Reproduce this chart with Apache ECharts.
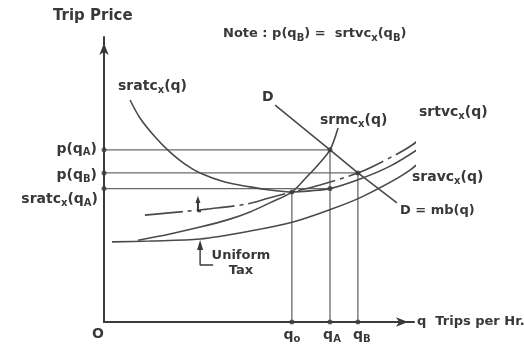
<!DOCTYPE html>
<html>
<head>
<meta charset="utf-8">
<script src="https://cdn.jsdelivr.net/npm/echarts@6/dist/echarts.min.js"></script>
<style>
  html, body { margin: 0; padding: 0; background: #ffffff; }
  #chart { width: 524px; height: 345px; }
</style>
</head>
<body>
<div id="chart"></div>
<script>
// Trip quantities marked on the horizontal axis
const qZero = 60.6, qA = 72.9, qB = 81.9;
// Prices marked on the vertical axis
const priceA = 60.4, priceB = 52.3, sratcAtQA = 46.8, sratcAtQZero = 45.6;

// Short-run average variable cost
const sravcPoints = [[2.6, 28.1], [14.8, 28.4], [31.0, 29.1], [47.1, 31.9], [61.0, 35.1],
  [72.6, 39.3], [83.2, 43.9], [98.7, 53.3], [111.6, 66.3]];
// Short-run marginal cost
const srmcPoints = [[11.0, 28.7], [21.3, 30.9], [31.0, 33.3], [40.6, 36.1], [47.1, 38.6],
  [53.5, 41.8], [60.6, 45.6], [64.8, 50.2], [69.0, 55.1], [72.9, 60.4], [75.5, 68.1]];
// Short-run average total cost
const sratcPoints = [[8.4, 77.9], [11.6, 71.6], [16.5, 64.9], [21.3, 59.6], [26.1, 55.4],
  [31.0, 52.3], [39.0, 49.1], [47.1, 47.4], [53.5, 46.3], [60.6, 45.6], [66.5, 46.0],
  [72.9, 46.8], [82.6, 50.2], [92.3, 54.7], [101.9, 61.1], [109.4, 67.4]];
// Average variable cost plus the uniform tax
const srtvcPoints = [[13.2, 37.5], [27.1, 38.9], [33.2, 39.6], [46.1, 41.4], [52.6, 43.3],
  [60.6, 45.6], [69.7, 48.1], [81.9, 52.3], [89.0, 55.8], [99.4, 62.1], [108.4, 70.5]];
// Demand, D = mb(q)
const demandPoints = [[55.2, 76.1], [72.9, 60.4], [81.9, 52.3], [94.5, 41.8]];

// Pointer under the "Uniform Tax" note and the small tax marker on the dashed curve
const uniformTaxArrow = [[35.2, 20.0], [31.0, 20.0], [31.0, 27.0]];
const taxMarker = [[31.3, 38.9], [30.3, 38.9], [30.3, 43.0]];

const font = 'DejaVu Sans';
const ink = '#383838';
const curveInk = '#4a4a4a';
const guideInk = '#6a6a6a';

const chart = echarts.init(document.getElementById('chart'));

function curve(name, data, extra) {
  return Object.assign({
    type: 'line', name: name, data: data, smooth: 0.3,
    symbol: 'none', clip: false, silent: true, z: 3,
    lineStyle: { color: curveInk, width: 1.6 }
  }, extra || {});
}

function guide(a, b) {
  return {
    type: 'line', data: [a, b], symbol: 'none', clip: false, silent: true, z: 2,
    lineStyle: { color: guideInk, width: 1.3 }
  };
}

function pointer(points, width, head) {
  const data = points.map(function (p, i) {
    return i === points.length - 1
      ? { value: p, symbol: 'triangle', symbolSize: head }
      : { value: p, symbol: 'none' };
  });
  return {
    type: 'line', data: data, showSymbol: true, symbol: 'none', clip: false, silent: true, z: 4,
    lineStyle: { color: ink, width: width }, itemStyle: { color: ink }
  };
}

const dots = [
  [0, priceA], [0, priceB], [0, sratcAtQA],
  [qZero, 0], [qA, 0], [qB, 0],
  [qZero, sratcAtQZero], [qA, priceA], [qA, sratcAtQA], [qB, priceB]
];

const axisCommon = {
  type: 'value', min: 0, max: 100,
  axisTick: { show: false }, axisLabel: { show: false }, splitLine: { show: false },
  axisLine: {
    show: true, onZero: false, symbol: ['none', 'arrow'], symbolSize: [7, 12], symbolOffset: [0, -6],
    lineStyle: { color: '#3a3a3a', width: 2 }
  }
};

chart.setOption({
  backgroundColor: '#ffffff',
  animation: false,
  grid: { left: 104, top: 37, width: 310, height: 285 },
  xAxis: axisCommon,
  yAxis: axisCommon,
  series: [
    guide([0, priceA], [qA, priceA]),
    guide([0, priceB], [qB, priceB]),
    guide([0, sratcAtQA], [qA, sratcAtQA]),
    guide([qZero, 0], [qZero, sratcAtQZero]),
    guide([qA, 0], [qA, priceA]),
    guide([qB, 0], [qB, priceB]),
    curve('sravc', sravcPoints),
    curve('srmc', srmcPoints),
    curve('sratc', sratcPoints),
    curve('srtvc', srtvcPoints, { lineStyle: { color: curveInk, width: 1.6, type: [38, 5, 4, 5] } }),
    curve('D', demandPoints, { smooth: false }),
    pointer(uniformTaxArrow, 1.4, [6, 10]),
    pointer(taxMarker, 2, [5, 7]),
    {
      type: 'scatter', data: dots, symbol: 'circle', symbolSize: 5, clip: false, silent: true, z: 5,
      itemStyle: { color: '#3a3a3a' }
    }
  ]
});

function rich(size) {
  return {
    s: { fontFamily: font, fontWeight: 'bold', fontSize: Math.round(size * 0.74), fill: ink, padding: [8, 0, 0, 0] }
  };
}

function label(x, y, text, align, size) {
  size = size || 14;
  return {
    type: 'text', x: x, y: y, silent: true, z: 10,
    style: {
      text: text, align: align || 'left', verticalAlign: 'middle', fill: ink,
      fontFamily: font, fontWeight: 'bold', fontSize: size, lineHeight: 15, rich: rich(size)
    }
  };
}

function px(point) {
  return chart.convertToPixel({ gridIndex: 0 }, point);
}

const pxQZero = px([qZero, 0]), pxQA = px([qA, 0]), pxQB = px([qB, 0]);
const pxPA = px([0, priceA]), pxPB = px([0, priceB]), pxSA = px([0, sratcAtQA]);
const origin = px([0, 0]);

chart.setOption({
  graphic: [
    label(53, 16, 'Trip Price', 'left', 15),
    label(223, 34, 'Note : p(q{s|B}) =  srtvc{s|x}(q{s|B})', 'left', 13),
    label(118, 86, 'sratc{s|x}(q)'),
    label(320, 120, 'srmc{s|x}(q)'),
    label(419, 112, 'srtvc{s|x}(q)'),
    label(412, 177, 'sravc{s|x}(q)'),
    label(400, 211, 'D = mb(q)', 'left', 13),
    label(262, 97, 'D'),
    { type: 'text', x: 241, y: 263, silent: true, z: 10,
      style: { text: 'Uniform\nTax', align: 'center', verticalAlign: 'middle', fill: ink,
        fontFamily: font, fontWeight: 'bold', fontSize: 13, lineHeight: 15 } },
    label(417, origin[1], 'q  Trips per Hr.', 'left', 13),
    label(origin[0] - 6, origin[1] + 12, 'O', 'center', 14),
    label(pxPA[0] - 7, pxPA[1] - 1, 'p(q{s|A})', 'right'),
    label(pxPB[0] - 7, pxPB[1] + 2, 'p(q{s|B})', 'right'),
    label(pxSA[0] - 6, pxSA[1] + 11, 'sratc{s|x}(q{s|A})', 'right'),
    label(pxQZero[0], pxQZero[1] + 13, 'q{s|o}', 'center'),
    label(pxQA[0] + 2, pxQA[1] + 13, 'q{s|A}', 'center'),
    label(pxQB[0] + 4, pxQB[1] + 13, 'q{s|B}', 'center')
  ]
});
</script>
</body>
</html>
